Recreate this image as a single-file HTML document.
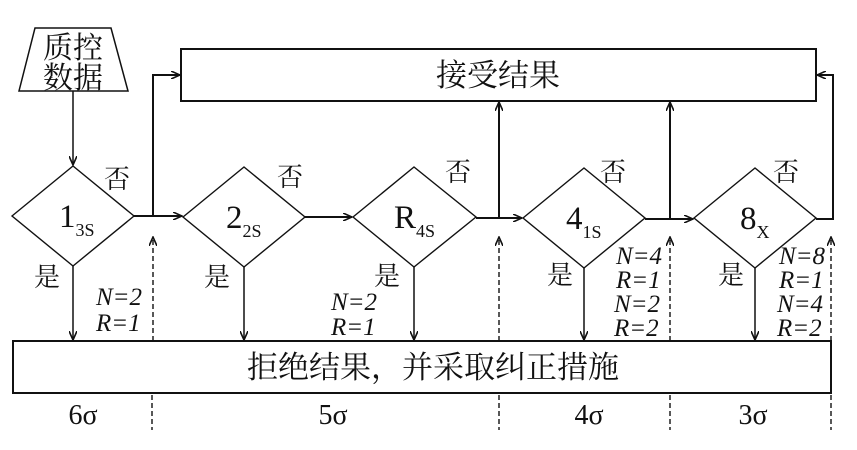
<!DOCTYPE html>
<html><head><meta charset="utf-8"><style>
html,body{margin:0;padding:0;background:#fff;}
svg{display:block;}
text{font-family:"Liberation Serif","DejaVu Serif","Noto Serif CJK SC",serif;fill:#111;}
.cj{font-family:"Liberation Serif","Noto Serif CJK SC","Noto Sans CJK SC",serif;}
</style></head><body>
<svg width="857" height="450" viewBox="0 0 857 450" xmlns="http://www.w3.org/2000/svg">
<defs>
<marker id="a" markerWidth="10" markerHeight="8" refX="9" refY="4" orient="auto" markerUnits="userSpaceOnUse">
<path d="M0,0 L9,4 L0,8" fill="none" stroke="#111" stroke-width="1.6"/></marker>
</defs>
<g stroke="#111" stroke-width="2" fill="none">
<polygon points="35,28 111,28 128,91 19,91" stroke-width="1.5"/>
<rect x="181" y="49" width="635" height="52"/>
<rect x="13" y="341" width="818" height="52"/>
<g stroke-width="1.4">
<polygon points="12,216 73,166 134,216 73,266"/>
<polygon points="183,217 244,167 305,217 244,267"/>
<polygon points="353,217 414,167 476,217 414,267"/>
<polygon points="523,218 584,168 645,218 584,268"/>
<polygon points="694,218 755,168 816,218 755,268"/>
</g>
<line x1="73" y1="91" x2="73" y2="165" marker-end="url(#a)" stroke-width="1.5"/>
<line x1="134" y1="216" x2="182" y2="216" marker-end="url(#a)"/>
<polyline points="153,216 153,75 180,75" marker-end="url(#a)"/>
<line x1="305" y1="217" x2="352" y2="217" marker-end="url(#a)"/>
<line x1="476" y1="218" x2="522" y2="218" marker-end="url(#a)"/>
<line x1="499" y1="218" x2="499" y2="102" marker-end="url(#a)"/>
<line x1="645" y1="219" x2="693" y2="219" marker-end="url(#a)"/>
<line x1="670" y1="219" x2="670" y2="102" marker-end="url(#a)"/>
<polyline points="816,219 833,219 833,75 817,75" marker-end="url(#a)"/>
<g stroke-width="1.5">
<line x1="73" y1="266" x2="73" y2="340" marker-end="url(#a)"/>
<line x1="244" y1="267" x2="244" y2="340" marker-end="url(#a)"/>
<line x1="414" y1="267" x2="414" y2="340" marker-end="url(#a)"/>
<line x1="584" y1="268" x2="584" y2="340" marker-end="url(#a)"/>
<line x1="755" y1="268" x2="755" y2="340" marker-end="url(#a)"/>
</g>
<g stroke-dasharray="5,3" stroke-width="1.4">
<line x1="153" y1="341" x2="153" y2="237" marker-end="url(#a)"/>
<line x1="499" y1="341" x2="499" y2="237" marker-end="url(#a)"/>
<line x1="670" y1="341" x2="670" y2="237" marker-end="url(#a)"/>
<line x1="831" y1="341" x2="831" y2="237" marker-end="url(#a)"/>
<line x1="152" y1="395" x2="152" y2="430"/>
<line x1="499" y1="395" x2="499" y2="430"/>
<line x1="670" y1="395" x2="670" y2="430"/>
<line x1="831" y1="395" x2="831" y2="430"/>
</g>
</g>
<g class="cj" font-size="30">
<text x="73" y="58" text-anchor="middle">质控</text>
<text x="73" y="88" text-anchor="middle">数据</text>
</g>
<text class="cj" x="498" y="86" font-size="31" text-anchor="middle">接受结果</text>
<text class="cj" x="433" y="378" font-size="31" text-anchor="middle">拒绝结果，并采取纠正措施</text>
<g class="cj" font-size="26">
<text x="117" y="188" text-anchor="middle">否</text>
<text x="290" y="186" text-anchor="middle">否</text>
<text x="458" y="181" text-anchor="middle">否</text>
<text x="613" y="181" text-anchor="middle">否</text>
<text x="786" y="181" text-anchor="middle">否</text>
<text x="47" y="286" text-anchor="middle">是</text>
<text x="217" y="286" text-anchor="middle">是</text>
<text x="387" y="285" text-anchor="middle">是</text>
<text x="560" y="284" text-anchor="middle">是</text>
<text x="731" y="284" text-anchor="middle">是</text>
</g>
<g font-size="33">
<text x="59" y="227">1<tspan font-size="18" dy="9">3S</tspan></text>
<text x="226" y="228">2<tspan font-size="18" dy="9">2S</tspan></text>
<text x="394" y="228">R<tspan font-size="18" dy="9">4S</tspan></text>
<text x="566" y="229">4<tspan font-size="18" dy="9">1S</tspan></text>
<text x="740" y="229">8<tspan font-size="18" dy="9">X</tspan></text>
</g>
<g font-size="25" font-style="italic">
<text x="96" y="305">N=2</text><text x="96" y="331">R=1</text>
<text x="331" y="310">N=2</text><text x="331" y="335">R=1</text>
<text x="616" y="264">N=4</text><text x="616" y="288">R=1</text>
<text x="614" y="312">N=2</text><text x="614" y="336">R=2</text>
<text x="779" y="264">N=8</text><text x="779" y="288">R=1</text>
<text x="777" y="312">N=4</text><text x="777" y="336">R=2</text>
</g>
<g font-size="28" text-anchor="middle">
<text x="83" y="424">6σ</text>
<text x="333" y="424">5σ</text>
<text x="589" y="424">4σ</text>
<text x="753" y="424">3σ</text>
</g>
</svg>
</body></html>
